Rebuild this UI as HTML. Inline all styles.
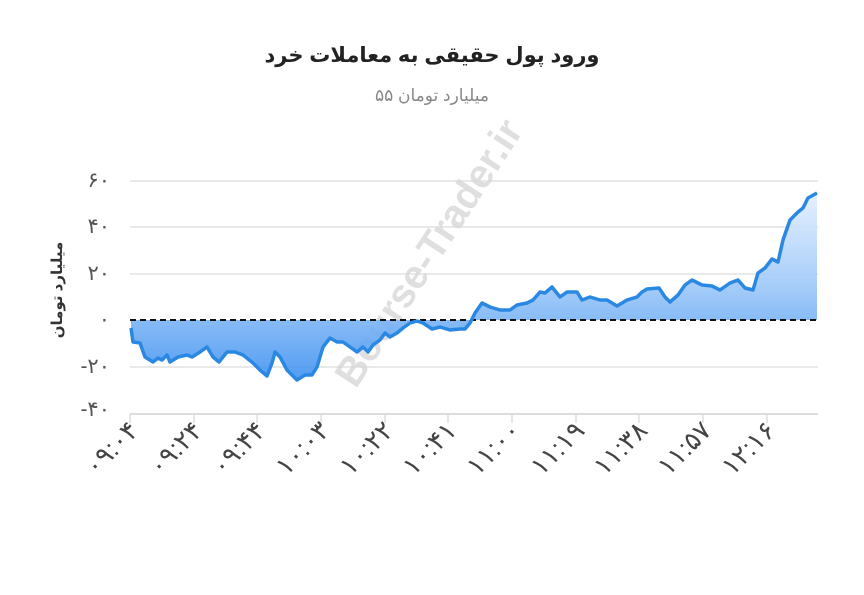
<!DOCTYPE html>
<html><head><meta charset="utf-8"><style>
body{margin:0;background:#fff;width:864px;height:590px;overflow:hidden;font-family:"Liberation Sans","DejaVu Sans",sans-serif}
</style></head><body>
<svg width="864" height="590" xmlns="http://www.w3.org/2000/svg">
<defs><linearGradient id="g" x1="0" y1="0" x2="0" y2="1">
<stop offset="0" stop-color="#e3efff"/><stop offset="0.5" stop-color="#9cc7f8"/><stop offset="1" stop-color="#3f91f0"/></linearGradient></defs>
<text x="432" y="62" text-anchor="middle" font-size="21" font-weight="bold" fill="#222" font-family="'Liberation Sans','DejaVu Sans',sans-serif">ورود پول حقیقی به معاملات خرد</text>
<text x="432" y="101" text-anchor="middle" font-size="17" fill="#888">میلیارد تومان ۵۵</text>
<g stroke="#e2e2e2" stroke-width="1.5">
<line x1="130" y1="181" x2="818" y2="181"/><line x1="130" y1="227" x2="818" y2="227"/>
<line x1="130" y1="274" x2="818" y2="274"/><line x1="130" y1="367" x2="818" y2="367"/>
</g>
<line x1="130" y1="414" x2="818" y2="414" stroke="#ddd" stroke-width="2"/>
<g stroke="#ddd" stroke-width="1.5">
<line x1="130" y1="414" x2="130" y2="423"/><line x1="194" y1="414" x2="194" y2="423"/><line x1="257" y1="414" x2="257" y2="423"/><line x1="321" y1="414" x2="321" y2="423"/><line x1="385" y1="414" x2="385" y2="423"/><line x1="448" y1="414" x2="448" y2="423"/><line x1="512" y1="414" x2="512" y2="423"/><line x1="576" y1="414" x2="576" y2="423"/><line x1="639" y1="414" x2="639" y2="423"/><line x1="703" y1="414" x2="703" y2="423"/><line x1="767" y1="414" x2="767" y2="423"/>
</g>
<g font-size="21" fill="#555" text-anchor="end">
<text x="110" y="187">۶۰</text><text x="110" y="233">۴۰</text><text x="110" y="280">۲۰</text><text x="110" y="326">۰</text><text x="110" y="373">-۲۰</text><text x="110" y="416">-۴۰</text>
</g>
<text transform="translate(62,290) rotate(-90)" text-anchor="middle" font-size="15" font-weight="bold" fill="#333">میلیارد تومان</text>
<text transform="translate(440,260) rotate(-57)" text-anchor="middle" font-size="40" font-weight="bold" fill="#d8d8d8" opacity="0.8">Bourse-Trader.ir</text>
<path d="M131,320 L131,328 L133,342 L140,343 L145,357 L153,362 L158,358 L162,360 L167,355 L170,362 L178,357 L187,355 L192,357 L200,352 L207,347 L213,357 L219,362 L227,352 L235,352 L243,355 L253,363 L260,370 L267,376 L272,363 L275,352 L280,357 L287,370 L297,380 L305,375 L312,375 L317,367 L323,347 L330,338 L337,342 L343,342 L350,347 L357,352 L363,347 L368,352 L373,345 L380,340 L385,333 L390,337 L397,333 L403,328 L410,323 L417,321 L423,323 L432,329 L440,327 L450,330 L460,329 L465,329 L470,323 L475,313 L482,303 L490,307 L500,310 L510,310 L517,305 L527,303 L533,300 L540,292 L545,293 L552,287 L560,297 L567,292 L577,292 L582,300 L590,297 L600,300 L607,300 L617,306 L627,300 L637,297 L642,292 L647,289 L659,288 L665,297 L670,302 L678,295 L685,285 L692,280 L702,285 L712,286 L720,290 L730,283 L738,280 L745,288 L753,290 L758,273 L765,268 L772,259 L778,262 L783,240 L790,220 L798,212 L803,208 L808,198 L817,193 L817,320 Z" fill="url(#g)" opacity="0.9"/>
<line x1="130" y1="320" x2="818" y2="320" stroke="#111" stroke-width="2" stroke-dasharray="6,4"/>
<polyline fill="none" stroke="#2b88e2" stroke-width="3.5" stroke-linejoin="round" points="131,328 133,342 140,343 145,357 153,362 158,358 162,360 167,355 170,362 178,357 187,355 192,357 200,352 207,347 213,357 219,362 227,352 235,352 243,355 253,363 260,370 267,376 272,363 275,352 280,357 287,370 297,380 305,375 312,375 317,367 323,347 330,338 337,342 343,342 350,347 357,352 363,347 368,352 373,345 380,340 385,333 390,337 397,333 403,328 410,323 417,321 423,323 432,329 440,327 450,330 460,329 465,329 470,323 475,313 482,303 490,307 500,310 510,310 517,305 527,303 533,300 540,292 545,293 552,287 560,297 567,292 577,292 582,300 590,297 600,300 607,300 617,306 627,300 637,297 642,292 647,289 659,288 665,297 670,302 678,295 685,285 692,280 702,285 712,286 720,290 730,283 738,280 745,288 753,290 758,273 765,268 772,259 778,262 783,240 790,220 798,212 803,208 808,198 817,193"/>
<g font-size="26" fill="#444" text-anchor="end">
<text transform="translate(140,432) rotate(-45)">۰۹:۰۴</text>
<text transform="translate(204,432) rotate(-45)">۰۹:۲۴</text>
<text transform="translate(267,432) rotate(-45)">۰۹:۴۴</text>
<text transform="translate(331,432) rotate(-45)">۱۰:۰۳</text>
<text transform="translate(395,432) rotate(-45)">۱۰:۲۲</text>
<text transform="translate(458,432) rotate(-45)">۱۰:۴۱</text>
<text transform="translate(522,432) rotate(-45)">۱۱:۰۰</text>
<text transform="translate(586,432) rotate(-45)">۱۱:۱۹</text>
<text transform="translate(649,432) rotate(-45)">۱۱:۳۸</text>
<text transform="translate(713,432) rotate(-45)">۱۱:۵۷</text>
<text transform="translate(777,432) rotate(-45)">۱۲:۱۶</text>
</g>
</svg>
</body></html>
